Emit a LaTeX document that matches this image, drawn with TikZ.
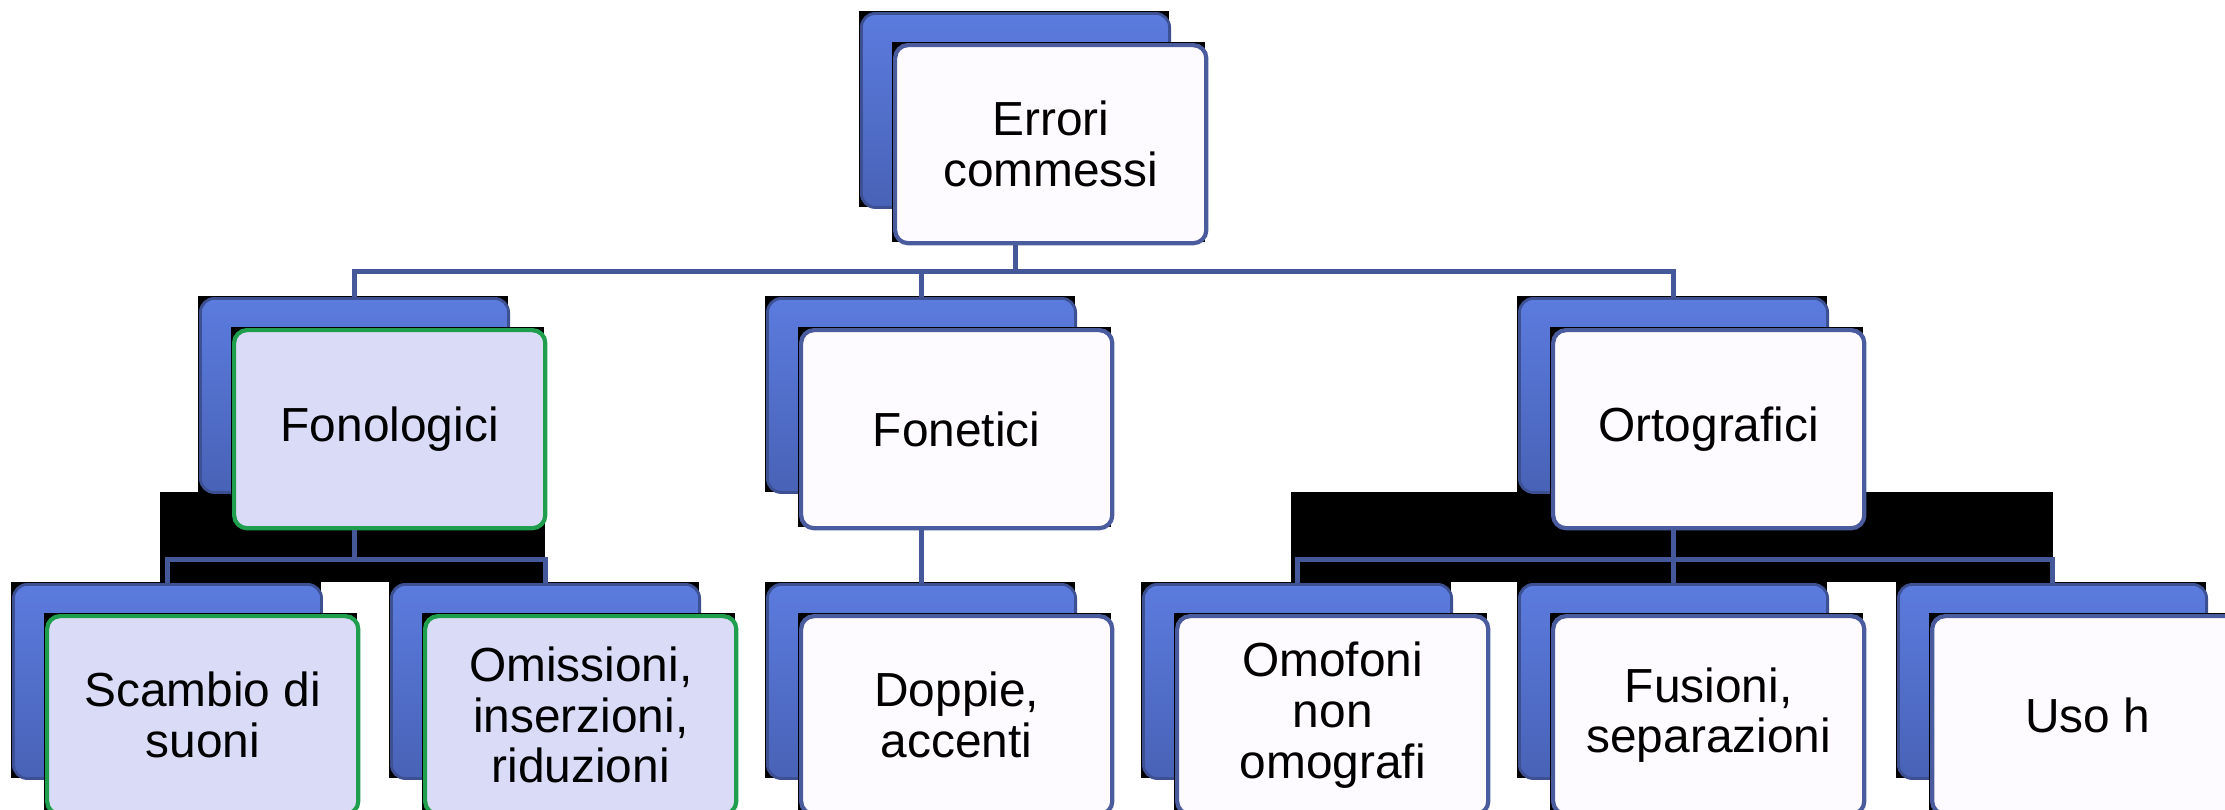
\documentclass[tikz,border=0pt]{standalone}
\usepackage{fontspec}
\setmainfont{Liberation Sans}
\usepackage{tikz}
\definecolor{backtop}{HTML}{5B7BDE}
\definecolor{backbot}{HTML}{4862B6}
\definecolor{backedge}{HTML}{3D5092}
\definecolor{frontfill}{HTML}{FDFBFF}
\definecolor{frontedge}{HTML}{4B5C9E}
\definecolor{fonofill}{HTML}{DADCF7}
\definecolor{fonoedge}{HTML}{1F9E4E}
\definecolor{connblue}{HTML}{44589A}
\newcommand{\errbox}[5]{%
    \fill[black] (#2-1,#3-1) rectangle ++(310,196);
    \node[backbox] (#1-b) at (#2,#3) {};
    \fill[black] (#2+32,#3+30) rectangle ++(313,200);
    \node[frontbox,#4] (#1) at (#2+33,#3+31) {#5};
}

\begin{document}
\begin{tikzpicture}[thick, x=0.01cm, y=-0.01cm,
        backbox/.style={anchor=north west, inner sep=0, minimum width=3.08cm, minimum height=1.94cm,
            rounded corners=0.14cm, draw=backedge, line width=0.8pt, top color=backtop, bottom color=backbot},
        frontbox/.style={anchor=north west, inner sep=0, minimum width=3.11cm, minimum height=1.98cm,
            rounded corners=0.13cm, draw=frontedge, line width=1.2pt, fill=frontfill,
            align=center, font=\fontsize{13.6}{14.4}\selectfont},
        fono/.style={fill=fonofill, draw=fonoedge},
        conn/.style={draw=connblue, line width=0.05cm}]
        \clip (0,0) rectangle (2225,809);

        \fill[black] (160,492) rectangle (545,582);
        \fill[black] (1291,492) rectangle (2053,582);

        \errbox{err}{860}{12}{}{Errori\\commessi}
        \errbox{fono}{199}{297}{fono}{Fonologici}
        \errbox{fone}{766}{297}{}{Fonetici}
        \errbox{orto}{1518}{297}{}{Ortografici}
        \errbox{scam}{12}{583}{fono}{Scambio di\\suoni}
        \errbox{omis}{390}{583}{fono}{Omissioni,\\inserzioni,\\riduzioni}
        \errbox{dopp}{766}{583}{}{Doppie,\\accenti}
        \errbox{omof}{1142}{583}{}{Omofoni\\non\\omografi}
        \errbox{fusi}{1518}{583}{}{Fusioni,\\separazioni}
        \errbox{uso}{1897}{583}{}{Uso h}

        \draw[conn] (err-b.center |- err.south) -- ++(0,26) coordinate (bus1);
        \draw[conn] (fono-b.north) |- (bus1) -| (orto-b.north);
        \draw[conn] (fone-b.north) -- (fone-b.north |- bus1);

        \draw[conn] (fono-b.center |- fono.south) -- ++(0,29) coordinate (bus2);
        \draw[conn] (scam-b.north) |- (bus2) -| (omis-b.north);

        \draw[conn] (fone-b.center |- fone.south) -- (dopp-b.north);

        \draw[conn] (orto-b.center |- orto.south) -- ++(0,29) coordinate (bus3);
        \draw[conn] (omof-b.north) |- (bus3) -| (uso-b.north);
        \draw[conn] (fusi-b.north) -- (fusi-b.north |- bus3);
    \end{tikzpicture}
\end{document}
